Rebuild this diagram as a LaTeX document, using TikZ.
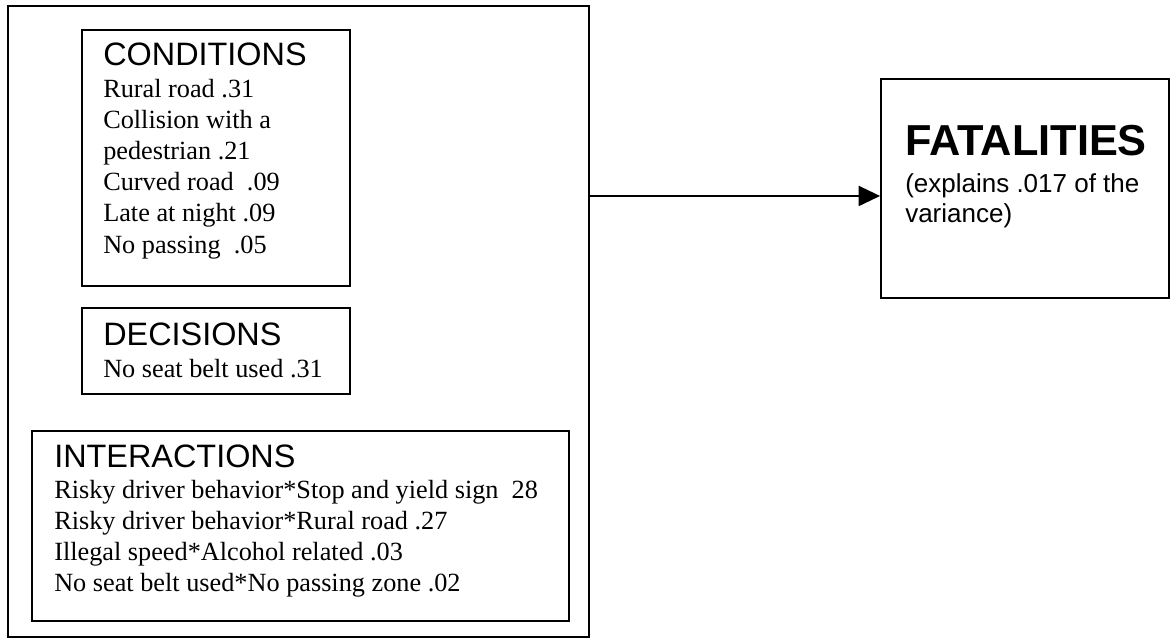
\documentclass[tikz,border=0pt]{standalone}
\usepackage{fontspec}
\setmainfont{Liberation Serif}
\setsansfont{Liberation Sans}
\usetikzlibrary{positioning,arrows.meta,fit}
\tikzset{
  box/.style={draw, line width=1.4pt, inner sep=0pt},
  head/.style={anchor=base west, inner sep=0pt, font=\sffamily\fontsize{24.3}{28}\selectfont},
  item/.style={anchor=base west, inner sep=0pt, font=\fontsize{19.7}{23}\selectfont},
  note/.style={anchor=base west, inner sep=0pt, font=\sffamily\fontsize{19.5}{23}\selectfont},
  flow/.style={-{Triangle[length=16pt,width=15pt]}, line width=1.4pt}
}

\begin{document}
\begin{tikzpicture}[x=0.75pt,y=-0.75pt]
\useasboundingbox (0,0) rectangle (1171,639);
% predictor groups
\node[box, fit={(8,6) (589,637)}] (model) {};
\node[box, fit={(82,30) (350,286)}] (cond) {};
\node[box, fit={(82,308) (350,394)}] (dec) {};
\node[box, fit={(32,431) (569,621)}] (inter) {};
% outcome
\node[box, fit={(881,79) (1169,298)}] (fat) {};

\node[head] (condhead) at (103,65) {CONDITIONS};
\foreach \txt [count=\i] in {Rural road .31, Collision with a, pedestrian .21,
    Curved road\ \ .09, Late at night .09, No passing\ \ .05}
  \node[item] (cond\i) at (103,{97+31.2*(\i-1)}) {\txt};

\node[head] (dechead) at (103,345) {DECISIONS};
\node[item] (dec1) at (103,377) {No seat belt used .31};

\node[head] (interhead) at (54,467) {INTERACTIONS};
\foreach \txt [count=\i] in {Risky driver behavior*Stop and yield sign\ \ 28,
    Risky driver behavior*Rural road .27, Illegal speed*Alcohol related .03,
    No seat belt used*No passing zone .02}
  \node[item] (inter\i) at (54,{498+31.25*(\i-1)}) {\txt};

\node[head, font=\sffamily\bfseries\fontsize{32.5}{36}\selectfont] (fathead) at (905,155) {FATALITIES};
\node[note] (fat1) at (905,192) {(explains .017 of the};
\node[note] (fat2) at (905,222) {variance)};

\draw[flow] ([yshift=-5.6pt]fat.west -| model.east) -- ([yshift=-5.6pt]fat.west);
\end{tikzpicture}
\end{document}
